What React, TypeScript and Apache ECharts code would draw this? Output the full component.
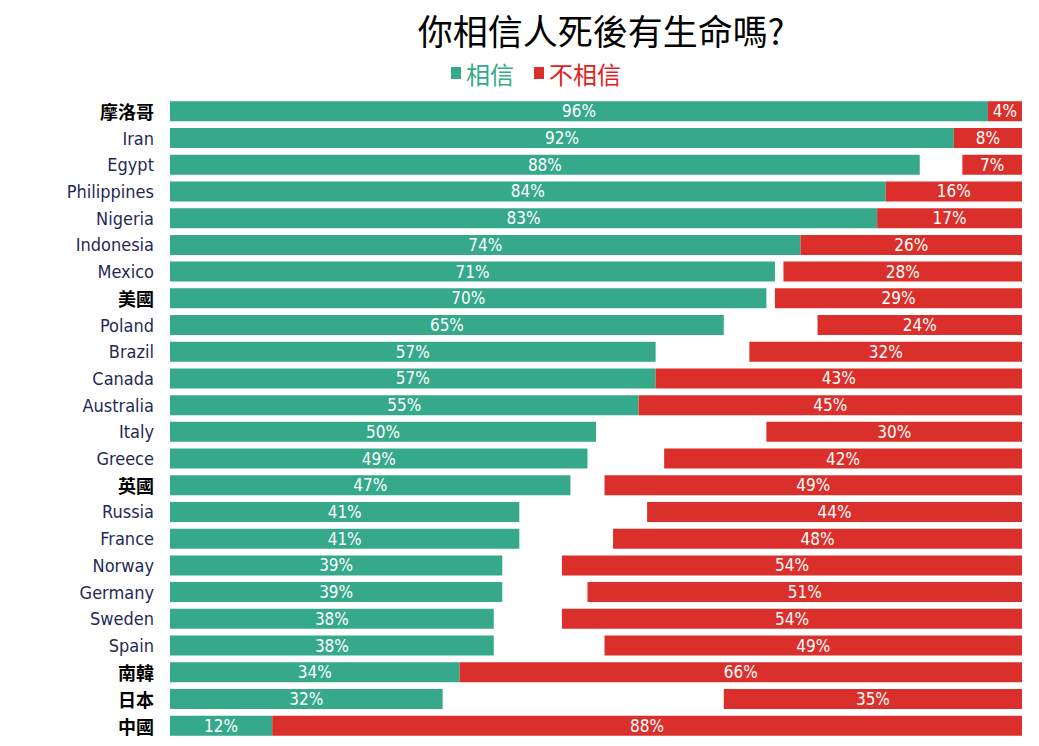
import React, { useEffect, useRef } from "react";
import * as echarts from "echarts";

const countries = [
  "摩洛哥", "Iran", "Egypt", "Philippines", "Nigeria", "Indonesia", "Mexico", "美國",
  "Poland", "Brazil", "Canada", "Australia", "Italy", "Greece", "英國", "Russia",
  "France", "Norway", "Germany", "Sweden", "Spain", "南韓", "日本", "中國",
];
const believe = [96, 92, 88, 84, 83, 74, 71, 70, 65, 57, 57, 55, 50, 49, 47, 41, 41, 39, 39, 38, 38, 34, 32, 12];
const notBelieve = [4, 8, 7, 16, 17, 26, 28, 29, 24, 32, 43, 45, 30, 42, 49, 44, 48, 54, 51, 54, 49, 66, 35, 88];

const GREEN = "#35a98a";
const RED = "#db2f2b";
const NARROW = "'Liberation Sans Narrow', 'DejaVu Sans Condensed', 'DejaVu Sans', sans-serif";

export default function App() {
  const ref = useRef<HTMLDivElement>(null);
  useEffect(() => {
    const chart = echarts.init(ref.current!, undefined, { renderer: "svg" });
    const gap = believe.map((b, i) => Math.max(0, 100 - b - notBelieve[i]));
    const valueLabel = {
      show: true,
      position: "inside",
      color: "#ffffff",
      fontFamily: NARROW,
      fontSize: 17,
      formatter: (p: any) => p.value + "%",
    };
    chart.setOption({
      animation: false,
      backgroundColor: "#ffffff",
      title: {
        text: "你相信人死後有生命嗎?",
        left: 596,
        top: 7,
        textAlign: "center",
        textStyle: {
          fontFamily: "Noto Sans CJK TC",
          fontWeight: "normal",
          fontSize: 35,
          color: "#000000",
        },
      },
      legend: {
        left: 446,
        top: 56,
        itemWidth: 10,
        itemHeight: 12,
        itemGap: 20,
        icon: "rect",
        data: [
          { name: "相信", textStyle: { color: GREEN } },
          { name: "不相信", textStyle: { color: "#e3211c" } },
        ],
        textStyle: { fontFamily: "Noto Sans CJK TC", fontSize: 24 },
      },
      grid: { left: 170, right: 17, top: 98, bottom: 7, containLabel: false },
      xAxis: {
        type: "value",
        min: 0,
        max: 100,
        show: false,
      },
      yAxis: {
        type: "category",
        inverse: true,
        data: countries,
        axisLine: { show: false },
        axisTick: { show: false },
        axisLabel: {
          margin: 16,
          formatter: (v: string) => (/[A-Za-z]/.test(v) ? "{en|" + v + "}" : "{cn|" + v + "}"),
          rich: {
            en: { fontFamily: NARROW, fontSize: 18, color: "#1f2a55" },
            cn: { fontFamily: "Noto Sans CJK TC", fontSize: 18, fontWeight: "bold", color: "#000000" },
          },
        },
      },
      series: [
        {
          name: "相信",
          type: "bar",
          stack: "s",
          data: believe,
          barWidth: 20,
          itemStyle: { color: GREEN },
          label: valueLabel,
        },
        {
          name: "gap",
          type: "bar",
          stack: "s",
          data: gap,
          barWidth: 20,
          itemStyle: { color: "rgba(0,0,0,0)" },
          label: { show: false },
          silent: true,
        },
        {
          name: "不相信",
          type: "bar",
          stack: "s",
          data: notBelieve,
          barWidth: 20,
          itemStyle: { color: RED },
          label: valueLabel,
        },
      ],
    });
    return () => chart.dispose();
  }, []);
  return <div ref={ref} style={{ position: "fixed", left: 0, top: 0, width: 1039, height: 746 }} />;
}
